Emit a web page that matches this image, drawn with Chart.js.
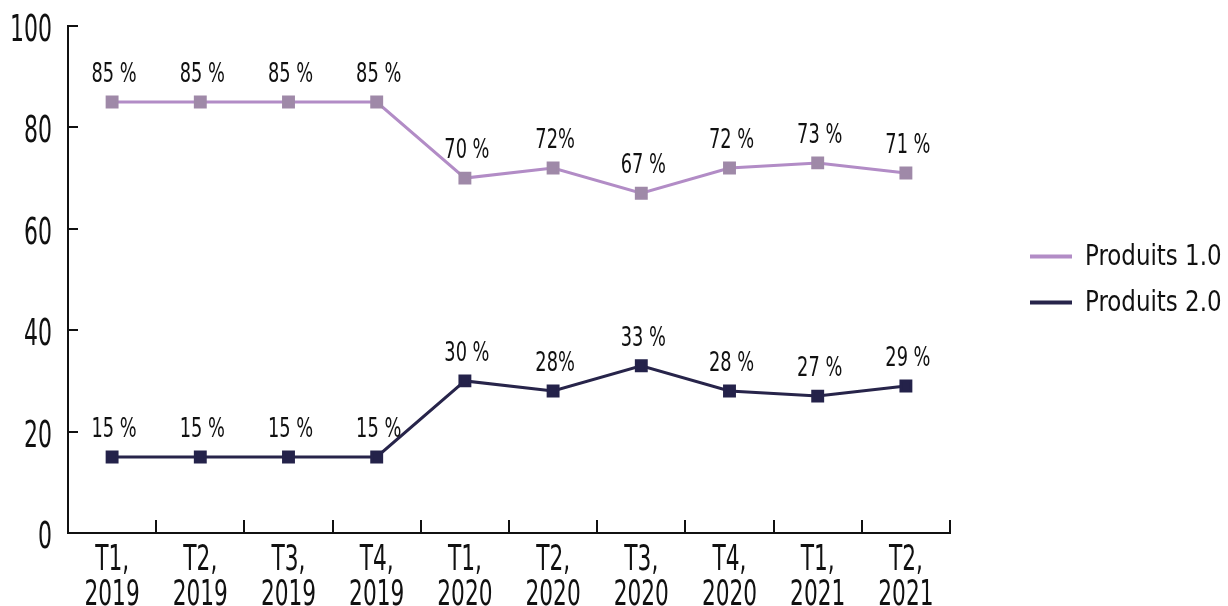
<!DOCTYPE html>
<html>
<head>
<meta charset="utf-8">
<script src="https://cdn.jsdelivr.net/npm/chart.js@4.4.1/dist/chart.umd.min.js"></script>
<style>
  html, body { margin: 0; padding: 0; background: #fff; }
  #wrap { width: 1228px; height: 606px; }
</style>
</head>
<body>
<div id="wrap"><canvas id="lineChart"></canvas></div>
<script>
const categories = [
  ['T1,', '2019'], ['T2,', '2019'], ['T3,', '2019'], ['T4,', '2019'],
  ['T1,', '2020'], ['T2,', '2020'], ['T3,', '2020'], ['T4,', '2020'],
  ['T1,', '2021'], ['T2,', '2021']
];
const produits1 = [85, 85, 85, 85, 70, 72, 67, 72, 73, 71];
const produits2 = [15, 15, 15, 15, 30, 28, 33, 28, 27, 29];
const labels1 = ['85 %', '85 %', '85 %', '85 %', '70 %', '72%', '67 %', '72 %', '73 %', '71 %'];
const labels2 = ['15 %', '15 %', '15 %', '15 %', '30 %', '28%', '33 %', '28 %', '27 %', '29 %'];
const yTicks = [0, 20, 40, 60, 80, 100];

const FONT = "'DejaVu Sans Condensed', 'DejaVu Sans', sans-serif";
const INK = '#111';

// the reference uses a very narrow font, so squeeze text horizontally
function narrowText(ctx, text, x, y, align, sx) {
  ctx.save();
  ctx.translate(x, y);
  ctx.scale(sx, 1);
  ctx.textAlign = align;
  ctx.fillText(text, 0, 0);
  ctx.restore();
}

// value labels over each point
const valueLabels = {
  id: 'valueLabels',
  afterDatasetsDraw(chart) {
    const ctx = chart.ctx;
    ctx.save();
    ctx.font = '26px ' + FONT;
    ctx.fillStyle = INK;
    ctx.textBaseline = 'alphabetic';
    chart.data.datasets.forEach((ds, i) => {
      chart.getDatasetMeta(i).data.forEach((pt, j) => {
        narrowText(ctx, ds.valueText[j], pt.x + 2, pt.y - 20, 'center', 0.76);
      });
    });
    ctx.restore();
  }
};

// tick labels and inward tick marks
const axisDecor = {
  id: 'axisDecor',
  afterDraw(chart) {
    const ctx = chart.ctx;
    const x = chart.scales.x, y = chart.scales.y;
    ctx.save();
    ctx.strokeStyle = INK;
    ctx.lineWidth = 2;
    ctx.beginPath();
    for (let i = 1; i <= categories.length; i++) {
      const px = Math.round(x.getPixelForValue(i - 0.5));
      ctx.moveTo(px, y.bottom);
      ctx.lineTo(px, y.bottom - 13);
    }
    y.ticks.forEach(t => {
      const py = Math.round(y.getPixelForValue(t.value));
      ctx.moveTo(x.left, py);
      ctx.lineTo(x.left + 10, py);
    });
    ctx.stroke();

    ctx.fillStyle = INK;
    ctx.textBaseline = 'alphabetic';
    ctx.font = '37px ' + FONT;
    y.ticks.forEach(t => {
      const py = y.getPixelForValue(t.value);
      narrowText(ctx, String(t.value), x.left - 16, py + 15, 'right', 0.66);
    });
    ctx.font = '36px ' + FONT;
    categories.forEach((lines, i) => {
      const px = x.getPixelForValue(i);
      lines.forEach((ln, k) => {
        narrowText(ctx, ln, px, y.bottom + 37 + k * 35, 'center', 0.67);
      });
    });
    ctx.restore();
  }
};

// legend on the right
const sideLegend = {
  id: 'sideLegend',
  afterDraw(chart) {
    const ctx = chart.ctx;
    const mid = (chart.chartArea.top + chart.chartArea.bottom) / 2;
    const n = chart.data.datasets.length;
    ctx.save();
    ctx.font = '29px ' + FONT;
    ctx.textBaseline = 'middle';
    ctx.fillStyle = INK;
    chart.data.datasets.forEach((ds, i) => {
      const yy = mid + (i - (n - 1) / 2) * 46;
      ctx.strokeStyle = ds.borderColor;
      ctx.lineWidth = 4;
      ctx.beginPath();
      ctx.moveTo(1030, yy);
      ctx.lineTo(1072, yy);
      ctx.stroke();
      narrowText(ctx, ds.label, 1085, yy + 1, 'left', 0.88);
    });
    ctx.restore();
  }
};

new Chart(document.getElementById('lineChart').getContext('2d'), {
  type: 'line',
  data: {
    labels: categories,
    datasets: [{
      label: 'Produits 1.0',
      data: produits1,
      valueText: labels1,
      borderColor: '#b28cc6',
      backgroundColor: '#9f89a8',
      pointBackgroundColor: '#9f89a8',
      pointBorderColor: '#9f89a8',
      borderWidth: 3,
      pointStyle: 'rect',
      pointRadius: 7,
      tension: 0
    }, {
      label: 'Produits 2.0',
      data: produits2,
      valueText: labels2,
      borderColor: '#27244a',
      backgroundColor: '#24224a',
      pointBackgroundColor: '#24224a',
      pointBorderColor: '#24224a',
      borderWidth: 3,
      pointStyle: 'rect',
      pointRadius: 7,
      tension: 0
    }]
  },
  options: {
    responsive: true,
    maintainAspectRatio: false,
    animation: false,
    layout: { padding: { top: 26, right: 278, left: 0, bottom: 0 } },
    plugins: {
      legend: { display: false },
      tooltip: { enabled: false }
    },
    scales: {
      x: {
        offset: true,
        grid: { display: false },
        border: { display: true, color: INK, width: 2 },
        ticks: { display: false, autoSkip: false },
        afterFit(scale) { scale.height = 73; }
      },
      y: {
        min: 0,
        max: 100,
        afterBuildTicks(scale) { scale.ticks = yTicks.map(v => ({ value: v })); },
        grid: { display: false },
        border: { display: true, color: INK, width: 2 },
        ticks: { display: false },
        afterFit(scale) { scale.width = 68; }
      }
    }
  },
  plugins: [valueLabels, axisDecor, sideLegend]
});
</script>
</body>
</html>
